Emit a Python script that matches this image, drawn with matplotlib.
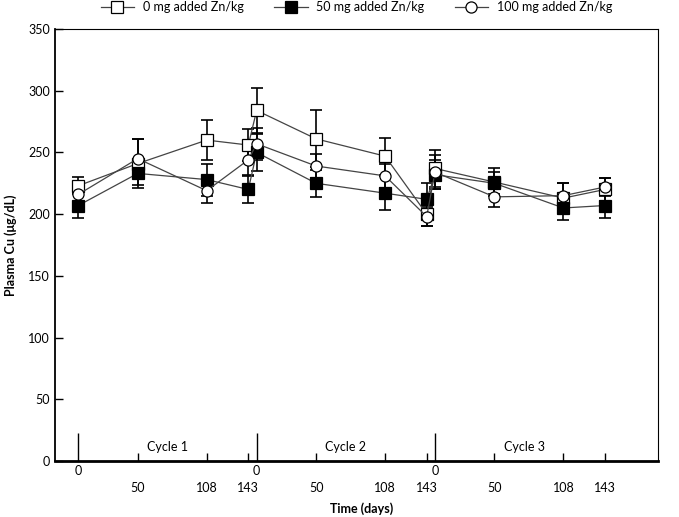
import matplotlib.pyplot as plt
import numpy as np

plt.rcParams['font.family'] = ['Lato', 'DejaVu Sans']

# sampling days within each cycle, cycles start 150 days apart on the axis
cycle_days = [0, 50, 108, 143]
cycle_starts = [0, 150, 300]
cycle_names = ['Cycle 1', 'Cycle 2', 'Cycle 3']

zn0 = [223, 241, 260, 256, 284, 261, 247, 200, 237, 226, 213, 220]
zn0_err = [7, 20, 16, 13, 18, 23, 15, 10, 15, 11, 12, 9]
zn50 = [207, 233, 228, 220, 250, 225, 217, 212, 232, 225, 205, 207]
zn50_err = [10, 9, 13, 11, 15, 11, 14, 13, 12, 9, 10, 10]
zn100 = [216, 245, 219, 244, 257, 239, 231, 198, 234, 214, 215, 222]
zn100_err = [8, 16, 10, 12, 13, 10, 10, 8, 14, 8, 10, 7]

x = np.array([s + d for s in cycle_starts for d in cycle_days])

fig = plt.figure(figsize=(6.79, 5.17), dpi=100)
ax = fig.add_axes([0.081, 0.1083, 0.888, 0.8356])

series = [
    (zn0, zn0_err, 's', 'white', '0 mg added Zn/kg'),
    (zn50, zn50_err, 's', 'black', '50 mg added Zn/kg'),
    (zn100, zn100_err, 'o', 'white', '100 mg added Zn/kg'),
]
handles = []
for vals, err, mk, fc, lab in series:
    ax.errorbar(x, vals, yerr=err, fmt='none', ecolor='black', elinewidth=1.2,
                capsize=4.5, capthick=1.2, zorder=2)
    h, = ax.plot(x, vals, color='#444444', lw=0.9, marker=mk, markersize=8,
                 markerfacecolor=fc, markeredgecolor='black', markeredgewidth=0.9,
                 label=lab, zorder=3)
    handles.append(h)

ax.set_xlim(-19.6, 487.5)
ax.set_ylim(0, 350)
ax.set_yticks(np.arange(0, 351, 50))

# day 0 of each cycle as long minor ticks with labels on the upper row
ax.set_xticks([s + d for s in cycle_starts for d in cycle_days[1:]])
ax.set_xticklabels([str(d) for s in cycle_starts for d in cycle_days[1:]])
ax.set_xticks(cycle_starts, minor=True)
ax.set_xticklabels(['0'] * 3, minor=True)
ax.tick_params(axis='x', which='major', direction='in', length=6, width=1,
               pad=15, labelsize=9)
ax.tick_params(axis='x', which='minor', direction='in', length=20, width=1,
               pad=3, labelsize=9)
ax.tick_params(axis='y', direction='in', length=6, width=1, labelsize=9)

for s, name in zip(cycle_starts, cycle_names):
    ax.text(s + 75, 11, name, ha='center', va='center', fontsize=9)

ax.spines['bottom'].set_linewidth(2)
ax.spines['left'].set_linewidth(1.3)
ax.spines['top'].set_linewidth(0.8)
ax.spines['right'].set_linewidth(0.8)

fig.text(0.533, 0.017, 'Time (days)', ha='center', va='center', fontsize=9,
         fontweight='bold')
ax.set_ylabel('Plasma Cu (\u03bcg/dL)', fontsize=9, fontweight='bold', labelpad=8)

fig.legend(handles=handles, loc='upper center', bbox_to_anchor=(0.525, 1.02),
           ncol=3, frameon=False, fontsize=9, handlelength=2.7, columnspacing=2.4,
           handletextpad=0.7)

fig.savefig('out.png', dpi=100)
